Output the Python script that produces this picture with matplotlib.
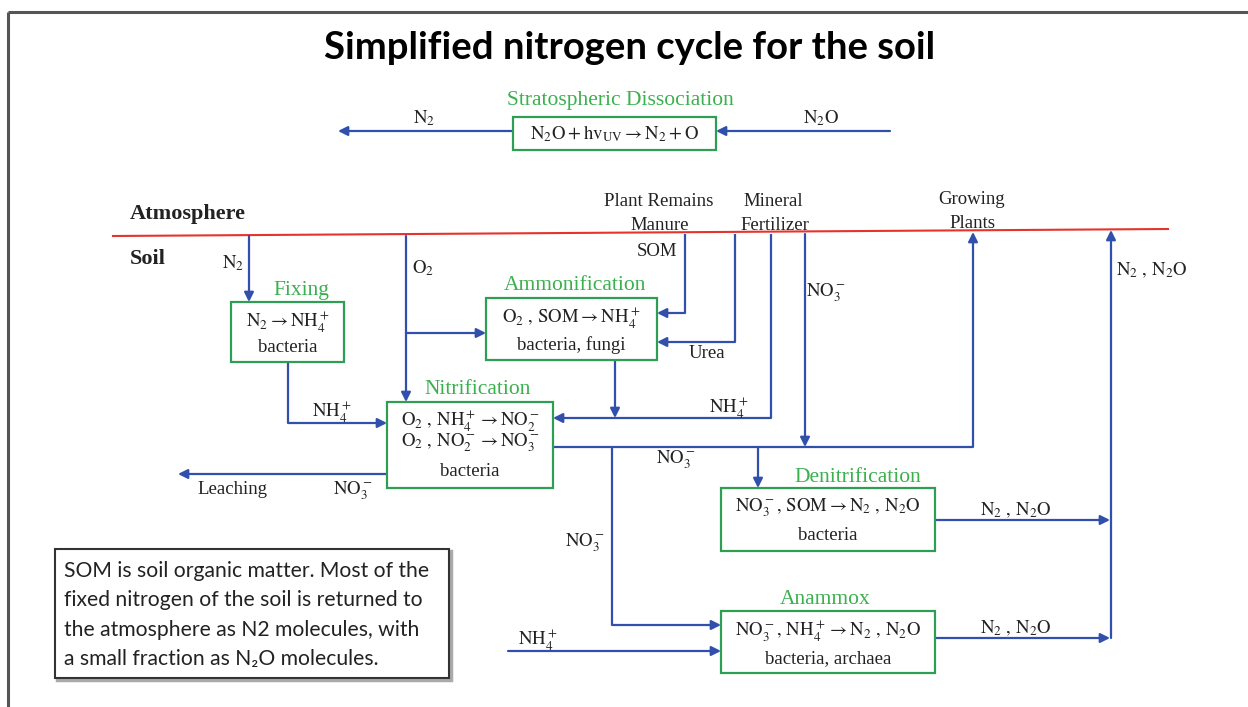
import matplotlib
matplotlib.use("Agg")
import matplotlib.pyplot as plt
from matplotlib.patches import Rectangle

plt.rcParams['mathtext.fontset'] = 'stix'
SERIF = ['Liberation Serif', 'DejaVu Serif']
SANS = ['Lato', 'DejaVu Sans']
BLUE = '#3050ac'
GREEN = '#2e9e55'
GREEN_TXT = '#3bb04e'
RED = '#e4342c'

title = "Simplified nitrogen cycle for the soil"

# process boxes: name, left, top, width, height
boxes = [
    ("Stratospheric Dissociation", 513, 117, 203, 33),
    ("Fixing", 231, 302, 113, 60),
    ("Ammonification", 486, 298, 171, 62),
    ("Nitrification", 387, 402, 166, 86),
    ("Denitrification", 721, 488, 214, 63),
    ("Anammox", 721, 611, 214, 62),
]
box_lines = {
    "Stratospheric Dissociation": [r"$\mathrm{N_2O + hv_{UV} \rightarrow N_2 + O}$"],
    "Fixing": [r"$\mathrm{N_2 \rightarrow NH_4^+}$", "bacteria"],
    "Ammonification": [r"$\mathrm{O_2\ ,\, SOM \rightarrow NH_4^+}$", "bacteria, fungi"],
    "Nitrification": [r"$\mathrm{O_2\ ,\, NH_4^+ \rightarrow NO_2^-}$",
                      r"$\mathrm{O_2\ ,\, NO_2^- \rightarrow NO_3^-}$", "bacteria"],
    "Denitrification": [r"$\mathrm{NO_3^-,\, SOM \rightarrow N_2\ ,\, N_2O}$", "bacteria"],
    "Anammox": [r"$\mathrm{NO_3^-,\, NH_4^+ \rightarrow N_2\ ,\, N_2O}$", "bacteria, archaea"],
}
# green caption positions (x centre, y)
box_titles = {
    "Stratospheric Dissociation": (620, 100),
    "Fixing": (301, 291),
    "Ammonification": (575, 286),
    "Nitrification": (478, 390),
    "Denitrification": (858, 477),
    "Anammox": (825, 600),
}

# flows: polyline points, the last segment carries the arrowhead
flows = [
    [(513, 131), (338, 131)],
    [(890, 131), (716, 131)],
    [(249, 236), (249, 302)],
    [(406, 236), (406, 402)],
    [(406, 333), (486, 333)],
    [(685, 234), (685, 313), (657, 313)],
    [(735, 234), (735, 342), (657, 342)],
    [(771, 234), (771, 418), (553, 418)],
    [(615, 360), (615, 418)],
    [(805, 234), (805, 447)],
    [(553, 447), (973, 447), (973, 232)],
    [(758, 447), (758, 488)],
    [(612, 447), (612, 625), (721, 625)],
    [(288, 362), (288, 423), (387, 423)],
    [(387, 474), (178, 474)],
    [(935, 520), (1110, 520)],
    [(935, 638), (1110, 638)],
    [(508, 651), (721, 651)],
    [(1111, 638), (1111, 230)],
]

# free labels: text, x, y, ha, weight
labels = [
    (r"$\mathrm{N_2}$", 424, 118, 'center', 'normal'),
    (r"$\mathrm{N_2O}$", 821, 118, 'center', 'normal'),
    ("Atmosphere", 130, 214, 'left', 'bold'),
    ("Soil", 130, 259, 'left', 'bold'),
    (r"$\mathrm{N_2}$", 233, 263, 'center', 'normal'),
    (r"$\mathrm{O_2}$", 423, 268, 'center', 'normal'),
    ("Plant Remains", 659, 201, 'center', 'normal'),
    ("Manure", 660, 225, 'center', 'normal'),
    ("SOM", 657, 252, 'center', 'normal'),
    ("Mineral", 773, 201, 'center', 'normal'),
    ("Fertilizer", 775, 225, 'center', 'normal'),
    ("Growing", 972, 200, 'center', 'normal'),
    ("Plants", 972, 223, 'center', 'normal'),
    (r"$\mathrm{NO_3^-}$", 826, 293, 'center', 'normal'),
    ("Urea", 707, 354, 'center', 'normal'),
    (r"$\mathrm{NH_4^+}$", 729, 407, 'center', 'normal'),
    (r"$\mathrm{NH_4^+}$", 332, 412, 'center', 'normal'),
    (r"$\mathrm{NO_3^-}$", 676, 460, 'center', 'normal'),
    ("Leaching", 232, 489, 'center', 'normal'),
    (r"$\mathrm{NO_3^-}$", 353, 491, 'center', 'normal'),
    (r"$\mathrm{NO_3^-}$", 585, 543, 'center', 'normal'),
    (r"$\mathrm{N_2\ ,\, N_2O}$", 1016, 510, 'center', 'normal'),
    (r"$\mathrm{N_2\ ,\, N_2O}$", 1016, 628, 'center', 'normal'),
    (r"$\mathrm{NH_4^+}$", 538, 639, 'center', 'normal'),
    (r"$\mathrm{N_2\ ,\, N_2O}$", 1152, 270, 'center', 'normal'),
]

note_lines = [
    "SOM is soil organic matter. Most of the",
    "fixed nitrogen of the soil is returned to",
    "the atmosphere as N2 molecules, with",
    "a small fraction as N\u2082O molecules.",
]

fig = plt.figure(figsize=(12.48, 7.07), dpi=100)
ax = fig.add_axes([0, 0, 1, 1])
ax.set_xlim(0, 1248)
ax.set_ylim(707, 0)
ax.axis('off')

# outer frame (only top and left edges visible)
ax.plot([8, 1248], [12, 12], color='#555555', lw=2.2, solid_capstyle='butt')
ax.plot([8, 8], [12, 707], color='#555555', lw=2.2, solid_capstyle='butt')

ax.text(630, 48, title, ha='center', va='center', fontsize=27.5,
        fontweight='bold', family=SANS)

# soil surface
ax.plot([113, 1168], [236, 229], color=RED, lw=1.5)

for points in flows:
    xs = [p[0] for p in points]
    ys = [p[1] for p in points]
    ax.plot(xs[:-1], ys[:-1], color=BLUE, lw=1.6, solid_capstyle='butt')
    ax.annotate('', xy=points[-1], xytext=points[-2],
                arrowprops=dict(arrowstyle='-|>', color=BLUE, lw=1.6,
                                mutation_scale=14, shrinkA=0, shrinkB=0))

for name, x, y, w, h in boxes:
    ax.add_patch(Rectangle((x, y), w, h, facecolor='white',
                           edgecolor=GREEN, lw=1.6, zorder=3))
    n = len(box_lines[name])
    for i, line in enumerate(box_lines[name]):
        if n == 1:
            yy = y + h / 2
        elif n == 2:
            yy = y + h * (0.32 + 0.44 * i)
        else:
            yy = y + h * [0.22, 0.48, 0.81][i]
        ax.text(x + w / 2, yy, line, ha='center', va='center', fontsize=13.5,
                family=SERIF, color='#222222', zorder=4)
    tx, ty = box_titles[name]
    ax.text(tx, ty, name, ha='center', va='center', fontsize=15.5,
            family=SERIF, color=GREEN_TXT, zorder=4)

for txt, x, y, ha, wt in labels:
    ax.text(x, y, txt, ha=ha, va='center', fontsize=16 if wt == 'bold' else 13.5,
            family=SERIF, fontweight=wt, color='#222222')

# note box with a light shadow
ax.add_patch(Rectangle((57, 551), 394, 129, facecolor='none',
                       edgecolor='#aaaaaa', lw=2.5, zorder=2))
ax.add_patch(Rectangle((55, 549), 394, 129, facecolor='white',
                       edgecolor='#333333', lw=1.5, zorder=3))
for i, line in enumerate(note_lines):
    ax.text(64, 571 + 29.3 * i, line, ha='left', va='center', fontsize=15.2,
            family=SANS, color='#222222', zorder=4)

fig.savefig('out.png', dpi=100)
